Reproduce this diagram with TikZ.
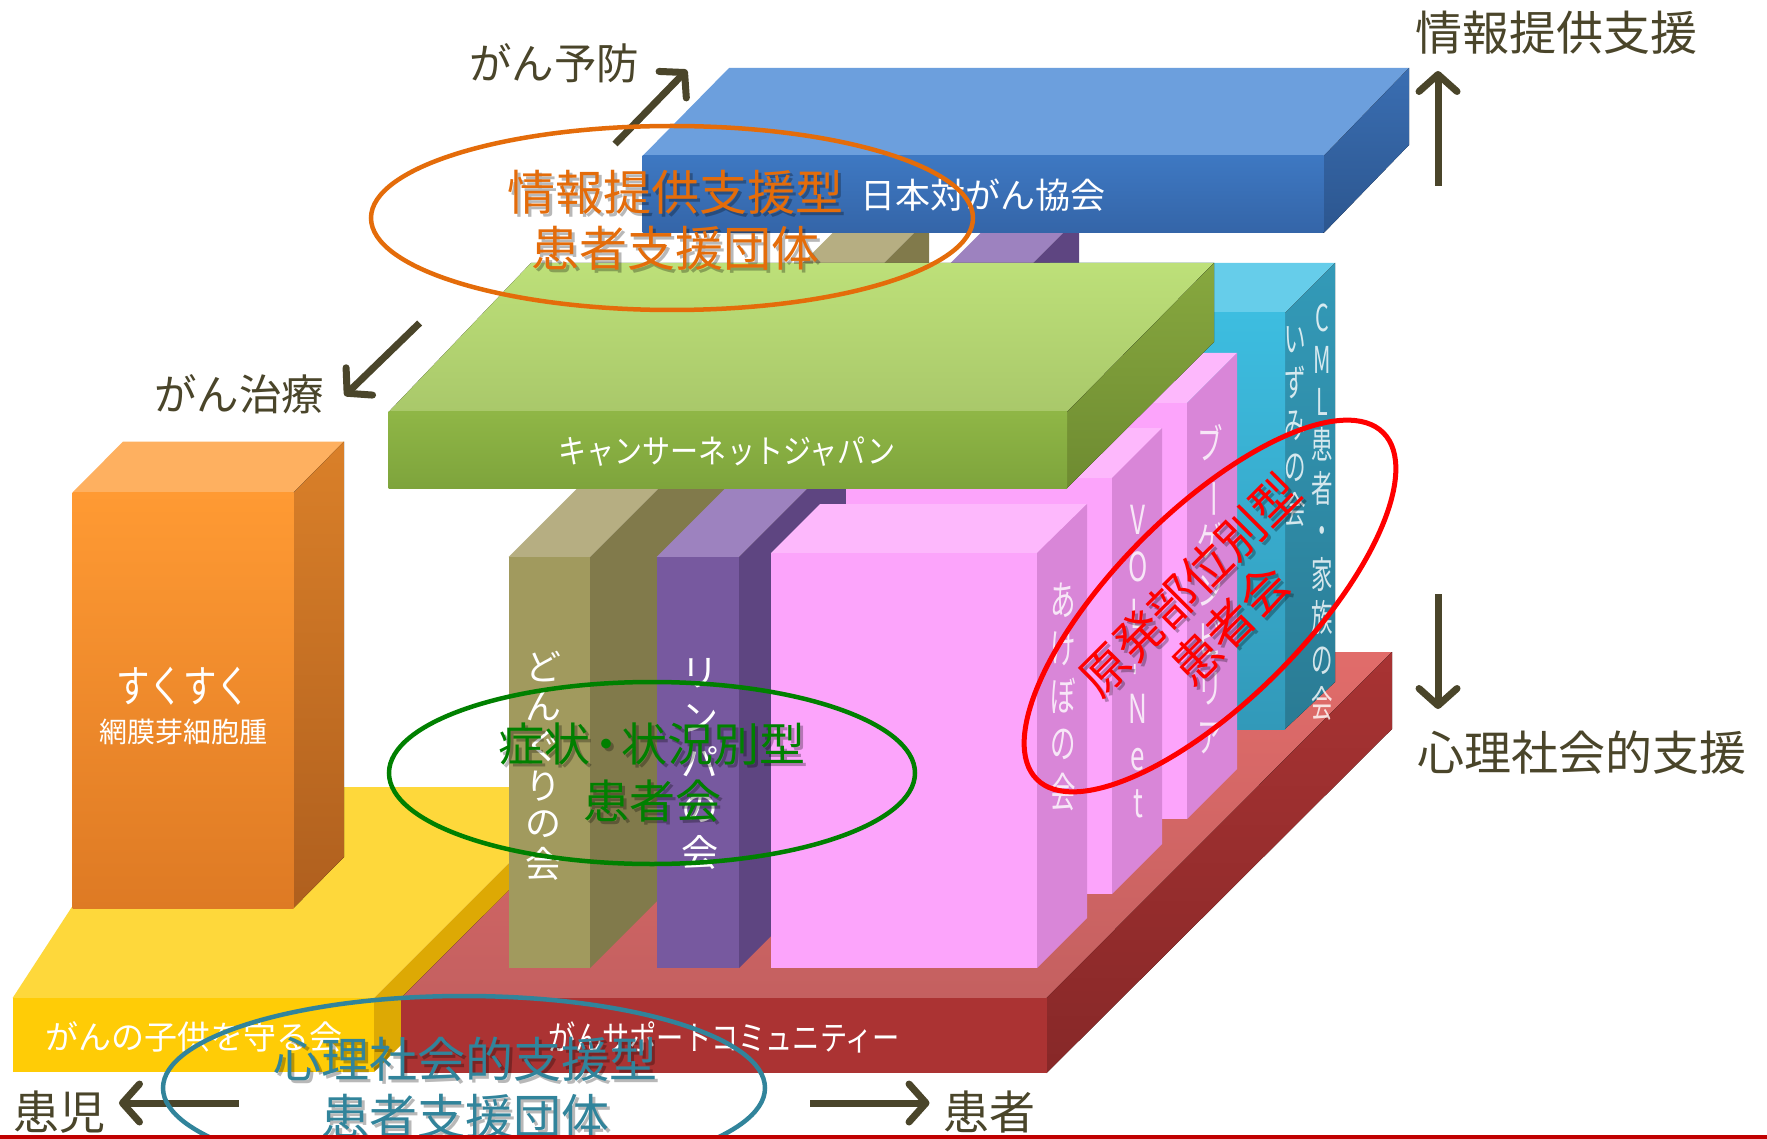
\documentclass[tikz,border=0pt]{standalone}
\usepackage{fontspec}
\setmainfont{Noto Sans CJK JP}
\usepackage{graphicx}
\usetikzlibrary{arrows.meta}
\definecolor{lbl}{HTML}{4A452A}
\definecolor{bluetop}{HTML}{6C9FDD}
\definecolor{bluefrontA}{HTML}{3E78C2}
\definecolor{bluefrontB}{HTML}{3465A8}
\definecolor{bluesideA}{HTML}{3A6EB2}
\definecolor{bluesideB}{HTML}{2C568F}
\definecolor{greentopA}{HTML}{BDE079}
\definecolor{greentopB}{HTML}{A9C86A}
\definecolor{greenfrontA}{HTML}{8FB646}
\definecolor{greenfrontB}{HTML}{7EA43C}
\definecolor{greensideA}{HTML}{87A83F}
\definecolor{greensideB}{HTML}{6E8B31}
\definecolor{orgtop}{HTML}{FEB060}
\definecolor{orgfrontA}{HTML}{FF9A33}
\definecolor{orgfrontB}{HTML}{DE7A24}
\definecolor{orgsideA}{HTML}{DA8029}
\definecolor{orgsideB}{HTML}{AF5F1E}
\definecolor{yeltop}{HTML}{FED83B}
\definecolor{yelfront}{HTML}{FFCC06}
\definecolor{yelside}{HTML}{DDA904}
\definecolor{redtopA}{HTML}{E16C6A}
\definecolor{redtopB}{HTML}{C46060}
\definecolor{redfront}{HTML}{AB3333}
\definecolor{redsideA}{HTML}{A83333}
\definecolor{redsideB}{HTML}{872828}
\definecolor{olvtop}{HTML}{B6AE82}
\definecolor{olvfront}{HTML}{A19A5E}
\definecolor{olvside}{HTML}{817A4B}
\definecolor{purtop}{HTML}{9D82BF}
\definecolor{purfront}{HTML}{77599F}
\definecolor{purside}{HTML}{5E4581}
\definecolor{pktop}{HTML}{FDB8FC}
\definecolor{pkfront}{HTML}{FCA4FB}
\definecolor{pkside}{HTML}{D986D8}
\definecolor{cytop}{HTML}{66CDEA}
\definecolor{cyfrontA}{HTML}{3DBDE0}
\definecolor{cyfrontB}{HTML}{3299B9}
\definecolor{cysideA}{HTML}{339AB8}
\definecolor{cysideB}{HTML}{2A7B94}
\definecolor{ovO}{HTML}{E46C0A}
\definecolor{ovG}{HTML}{008000}
\definecolor{ovR}{HTML}{FF0000}
\definecolor{ovT}{HTML}{31849B}
\definecolor{bline}{HTML}{C00000}
\newcommand{\jpfs}[1]{\fontsize{#1}{#1}\selectfont}
\newcommand{\vcol}[3]{{\fontsize{#1}{#2}\selectfont\renewcommand{\arraystretch}{1}\begin{tabular}{@{}c@{}}#3\end{tabular}}}
\tikzset{
  lab/.style={inner sep=0pt, text=lbl},
  facetxt/.style={inner sep=0pt, text=white},
  vlab/.style={inner sep=0pt, text=white, text opacity=0.8},
  arr/.style={draw=lbl, line width=7pt, -{Straight Barb[length=17pt,width=38pt,round]}},
  ov/.style={line width=4.5pt},
  shad/.style={inner sep=0pt, text=black, text opacity=0.28, align=center},
  big/.style={inner sep=0pt, align=center},
}
\begin{document}
\begin{tikzpicture}[x=1pt,y=-1pt]
\useasboundingbox (0,0) rectangle (1767,1139);
\fill[white] (0,0) rectangle (1767,1139);

% ---- yellow slab
\fill[yeltop] (12.6,998) -- (374,998) -- (585,787) -- (150,787) -- cycle;
\fill[yelside] (374,998) -- (585,787) -- (585,861) -- (374,1072) -- cycle;
\fill[yelfront] (12.6,998) rectangle (374,1072);

% ---- red slab
\fill[top color=redtopA, bottom color=redtopB] (401,998) -- (1046.6,998) -- (1392,652) -- (748,652) -- cycle;
\fill[top color=redsideA, bottom color=redsideB] (1046.6,998) -- (1392,652) -- (1392,729) -- (1046.6,1073) -- cycle;
\fill[redfront] (401,998) rectangle (1046.6,1073);

% ---- orange box
\fill[orgtop] (72.5,492.5) -- (293.6,492.5) -- (344,441.6) -- (123,441.6) -- cycle;
\fill[top color=orgsideA, bottom color=orgsideB] (293.6,492.5) -- (344,441.6) -- (344,857) -- (293.6,908) -- cycle;
\fill[top color=orgfrontA, bottom color=orgfrontB] (72.5,492.5) rectangle (293.6,908);

% ---- olive box
\fill[olvtop] (508.5,557) -- (590,557) -- (929,218) -- (847.5,218) -- cycle;
\fill[olvside] (590,557) -- (929,218) -- (929,629) -- (590,968) -- cycle;
\fill[olvfront] (508.5,557) rectangle (590,968);

% ---- purple box
\fill[purtop] (656.7,557) -- (739,557) -- (1079,217) -- (996.7,217) -- cycle;
\fill[purside] (739,557) -- (1079,217) -- (1079,628) -- (739,968) -- cycle;
\fill[purfront] (656.7,557) rectangle (739,968);

% ---- cyan box
\fill[cytop] (1000,313) -- (1285,313) -- (1335,263) -- (1050,263) -- cycle;
\fill[top color=cysideA, bottom color=cysideB] (1285,313) -- (1335,263) -- (1335,682) -- (1285,729) -- cycle;
\fill[top color=cyfrontA, bottom color=cyfrontB] (1000,313) rectangle (1285,729);

% ---- pink box 3
\fill[pktop] (900,403) -- (1187,403) -- (1237,353) -- (950,353) -- cycle;
\fill[pkside] (1187,403) -- (1237,353) -- (1237,769) -- (1187,819) -- cycle;
\fill[pkfront] (900,403) rectangle (1187,819);

% ---- pink box 2
\fill[pktop] (846,478) -- (1112,478) -- (1162,428) -- (896,428) -- cycle;
\fill[pkside] (1112,478) -- (1162,428) -- (1162,844) -- (1112,894) -- cycle;
\fill[pkfront] (846,478) rectangle (1112,894);

% ---- front pink box
\fill[pktop] (771,553) -- (1037,553) -- (1087,504) -- (820,504) -- cycle;
\fill[pkside] (1037,553) -- (1087,504) -- (1087,918) -- (1037,968) -- cycle;
\fill[pkfront] (771,553) rectangle (1037,968);

% ---- green slab
\fill[top color=greentopA, bottom color=greentopB] (388.6,412) -- (1067,412) -- (1214,263) -- (531,263) -- cycle;
\fill[top color=greensideA, bottom color=greensideB] (1067,412) -- (1214,263) -- (1214,342) -- (1067,488) -- cycle;
\fill[top color=greenfrontA, bottom color=greenfrontB] (388.6,412) rectangle (1067,488);

% ---- blue slab
\fill[bluetop] (642.5,156) -- (1323.7,156) -- (1409,68) -- (729,68) -- cycle;
\fill[top color=bluesideA, bottom color=bluesideB] (1323.7,156) -- (1409,68) -- (1409,145) -- (1323.7,233) -- cycle;
\fill[top color=bluefrontA, bottom color=bluefrontB] (642.5,156) rectangle (1323.7,233);

% ---- texts on faces
\node[facetxt, font=\jpfs{35}] (tBlue) at (983,195) {日本対がん協会};
\node[facetxt, font=\jpfs{33}] (tGreen) at (727,452) {\scalebox{0.85}[1]{キャンサーネットジャパン}};
\node[facetxt, font=\jpfs{44}] (tSuku) at (183,686) {\scalebox{0.76}[1]{すくすく}};
\node[facetxt, font=\jpfs{28}] (tMou) at (183,732) {網膜芽細胞腫};
\node[facetxt, font=\jpfs{33}] (tYel) at (194,1037) {がんの子供を守る会};
\node[facetxt, font=\jpfs{34}] (tRed) at (724,1037) {\scalebox{0.8}[1]{がんサポートコミュニティー}};

\node[facetxt] (tDon) at (543,770) {\vcol{36}{37.2}{ど\\ん\\ぐ\\り\\の\\会}};
\node[facetxt] (tRin) at (699.5,767) {\vcol{37}{45}{リ\\ン\\パ\\の\\会}};
\node[vlab] (tAke) at (1063,702) {\scalebox{0.62}[1]{\vcol{41}{47.5}{あ\\け\\ぼ\\の\\会}}};
\node[vlab] (tVol) at (1138,666.5) {\scalebox{0.65}[1]{\vcol{40}{47.2}{V\\O\\L\\\rotatebox[origin=c]{90}{-}\\N\\e\\t}}};
\node[vlab] (tBou) at (1210,595.5) {\scalebox{0.62}[1]{\vcol{41}{48.8}{ブ\\\rotatebox[origin=c]{-90}{ー}\\ゲ\\ン\\ビ\\リ\\ア}}};
\node[vlab] (tCml) at (1322,516) {\scalebox{0.58}[1]{\vcol{37}{42}{C\\M\\L\\患\\者\\・\\家\\族\\の\\会}}};
\node[vlab] (tIzu) at (1295,430) {\scalebox{0.58}[1]{\vcol{37}{42}{い\\ず\\み\\の\\会}}};

% ---- side labels and arrows
\node[lab, font=\jpfs{42.5}] (lYobo) at (554,63) {がん予防};
\node[lab, font=\jpfs{42.5}] (lChiryo) at (239,394) {がん治療};
\node[lab, font=\jpfs{47}] (lJoho) at (1556.5,33) {情報提供支援};
\node[lab, font=\jpfs{47}] (lShinri) at (1582,752.5) {心理社会的支援};
\node[lab, font=\jpfs{46}] (lKanji) at (59.5,1112) {患児};
\node[lab, font=\jpfs{46}] (lKanja) at (989,1112) {患者};

\coordinate (pA1) at (615,144); \coordinate (pA2) at (687,70);
\coordinate (pB1) at (419.6,323); \coordinate (pB2) at (344.6,395.7);
\coordinate (pC1) at (1438,186); \coordinate (pC2) at (1438,71);
\coordinate (pD1) at (1438,594); \coordinate (pD2) at (1438,709);
\coordinate (pE1) at (238.5,1103); \coordinate (pE2) at (119,1103);
\coordinate (pF1) at (810,1103); \coordinate (pF2) at (929.5,1103);
\draw[arr] (pA1) -- (pA2);
\draw[arr] (pB1) -- (pB2);
\draw[arr] (pC1) -- (pC2);
\draw[arr] (pD1) -- (pD2);
\draw[arr] (pE1) -- (pE2);
\draw[arr] (pF1) -- (pF2);

% ---- category ellipses
\draw[ov, ovO] (672,218) ellipse [x radius=301pt, y radius=92pt];
\draw[ov, ovG] (652,773) ellipse [x radius=263pt, y radius=91pt];
\draw[ov, ovT] (464,1088) ellipse [x radius=301pt, y radius=92pt];
\draw[line width=5pt, ovR, rotate around={45:(1210,606)}] (1210,606) ellipse [x radius=245pt, y radius=95pt];

\node[shad, font=\fontsize{48}{56}\selectfont] (cOs) at (678,223) {情報提供支援型\\患者支援団体};
\node[big, text=ovO, font=\fontsize{48}{56}\selectfont] (cO) at (675,220) {情報提供支援型\\患者支援団体};
\node[shad, font=\fontsize{46}{57}\selectfont] (cGs) at (655,776) {症状\kern-0.17em・\kern-0.17em状況別型\\患者会};
\node[big, text=ovG, font=\fontsize{46}{57}\selectfont] (cG) at (652,773) {症状\kern-0.17em・\kern-0.17em状況別型\\患者会};
\node[shad, font=\fontsize{48}{57}\selectfont] (cTs) at (468,1091) {心理社会的支援型\\患者支援団体};
\node[big, text=ovT, font=\fontsize{48}{57}\selectfont] (cT) at (465,1088) {心理社会的支援型\\患者支援団体};
\node[shad, rotate=45, font=\fontsize{48}{57}\selectfont] (cRs) at (1213,608) {原発部位別型\\患者会};
\node[big, rotate=45, text=ovR, font=\fontsize{48}{57}\selectfont] (cR) at (1210,605) {原発部位別型\\患者会};

% ---- bottom rule
\fill[bline] (0,1134.5) rectangle (1767,1139);
\end{tikzpicture}
\end{document}
